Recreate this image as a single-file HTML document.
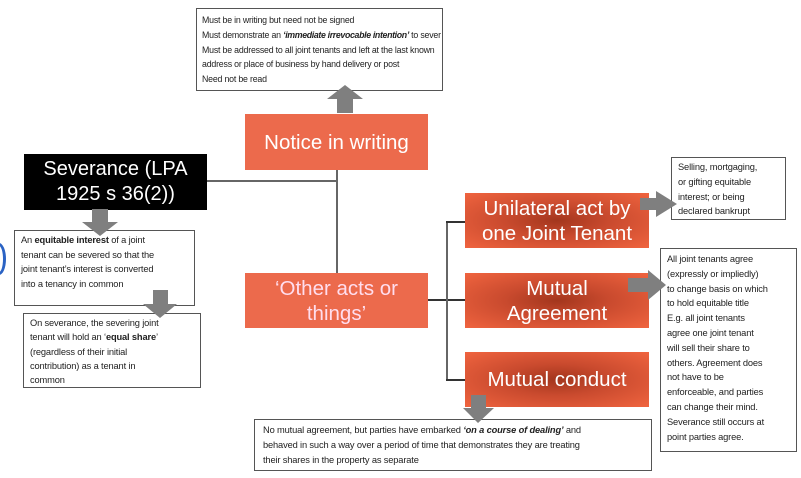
<!DOCTYPE html>
<html><head><meta charset="utf-8"><style>
body{margin:0;width:801px;height:478px;background:#fff;position:relative;overflow:hidden;font-family:"Liberation Sans",sans-serif}
.a{position:absolute;box-sizing:border-box}
.wb{border:1px solid #555;background:#fff;color:#222;font-size:9.3px;line-height:14.8px;padding:3px 6px;white-space:nowrap;letter-spacing:-0.15px;overflow:hidden}
.or{background:#ec6a4c;color:#fff;display:flex;align-items:center;justify-content:center;text-align:center;font-size:20.5px;line-height:25px}
.gr{background:radial-gradient(ellipse at 50% 50%,#a3361d 0%,#c94a2e 40%,#f0643f 100%)}
.ln{position:absolute;background:#666}
</style></head><body>
<div class="a" style="left:-8px;top:243px;width:14px;height:32px;border-radius:50%;border:3px solid #2b63c4"></div>

<div class="a wb" style="left:196px;top:8px;width:247px;height:83px;padding:4px 2px 0 5px;font-size:8.8px;letter-spacing:-0.2px">Must be in writing but need not be signed<br>Must demonstrate an <b><i style="letter-spacing:-0.35px">‘immediate irrevocable intention’</i></b> to sever<br>Must be addressed to all joint tenants and left at the last known<br>address or place of business by hand delivery or post<br>Need not be read</div>

<div class="ln" style="left:207px;top:180px;width:131px;height:2px"></div>
<div class="ln" style="left:336px;top:170px;width:2px;height:103px"></div>
<div class="ln" style="left:428px;top:299px;width:38px;height:1.5px;background:#333"></div>
<div class="ln" style="left:446px;top:221px;width:1.5px;height:160px"></div>
<div class="ln" style="left:446px;top:221px;width:20px;height:1.5px;background:#333"></div>
<div class="ln" style="left:446px;top:379px;width:20px;height:1.5px;background:#333"></div>

<div class="a or" style="left:245px;top:114px;width:183px;height:56px">Notice in writing</div>
<div class="a or" style="left:245px;top:273px;width:183px;height:55px;color:#fde">‘Other acts or<br>things’</div>

<div class="a" style="left:24px;top:154px;width:183px;height:56px;background:#000;color:#fff;font-size:20px;line-height:25px;text-align:center;padding-top:3px">Severance (LPA<br>1925 s 36(2))</div>

<div class="a or gr" style="left:465px;top:193px;width:184px;height:55px">Unilateral act by<br>one Joint Tenant</div>
<div class="a or gr" style="left:465px;top:273px;width:184px;height:55px">Mutual<br>Agreement</div>
<div class="a or gr" style="left:465px;top:352px;width:184px;height:55px">Mutual conduct</div>

<div class="a wb" style="left:14px;top:230px;width:181px;height:76px;padding-top:2px;line-height:14.6px">An <b>equitable interest</b> of a joint<br>tenant can be severed so that the<br>joint tenant’s interest is converted<br>into a tenancy in common</div>
<div class="a wb" style="left:23px;top:313px;width:178px;height:75px;padding-top:2px;line-height:14.3px">On severance, the severing joint<br>tenant will hold an ‘<b>equal share</b>’<br>(regardless of their initial<br>contribution) as a tenant in<br>common</div>

<div class="a wb" style="left:671px;top:157px;width:115px;height:63px;padding-top:2px">Selling, mortgaging,<br>or gifting equitable<br>interest; or being<br>declared bankrupt</div>
<div class="a wb" style="left:660px;top:248px;width:137px;height:204px;padding-top:3px">All joint tenants agree<br>(expressly or impliedly)<br>to change basis on which<br>to hold equitable title<br>E.g. all joint tenants<br>agree one joint tenant<br>will sell their share to<br>others. Agreement does<br>not have to be<br>enforceable, and parties<br>can change their mind.<br>Severance still occurs at<br>point parties agree.</div>
<div class="a wb" style="left:254px;top:419px;width:398px;height:52px;padding:3px 8px">No mutual agreement, but parties have embarked <b><i>‘on a course of dealing’</i></b> and<br>behaved in such a way over a period of time that demonstrates they are treating<br>their shares in the property as separate</div>

<svg class="a" style="left:0;top:0" width="801" height="478">
<g fill="#7f7f7f">
<polygon points="337,113 337,99 327,99 345,85 363,99 353,99 353,113"/>
<polygon points="92,209 108,209 108,222 118,222 100,236 82,222 92,222"/>
<polygon points="153,290 168,290 168,304 177,304 160,318 143,304 153,304"/>
<polygon points="640,198 656,198 656,191 677,204 656,217 656,210 640,210"/>
<polygon points="628,278 648,278 648,270 666,285 648,300 648,292 628,292"/>
<polygon points="471,395 486,395 486,408 494,408 478,423 463,408 471,408"/>
</g>
</svg>
</body></html>
